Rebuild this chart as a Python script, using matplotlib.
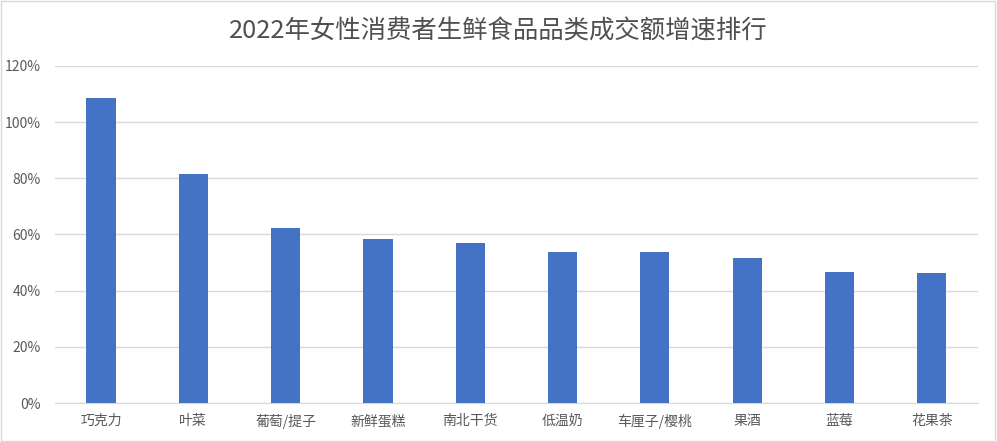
import matplotlib
matplotlib.use("Agg")
import matplotlib.pyplot as plt
from matplotlib.ticker import FuncFormatter
from matplotlib.patches import Rectangle

plt.rcParams['font.family'] = ['Noto Sans CJK SC', 'DejaVu Sans']

categories = ['巧克力', '叶菜', '葡萄/提子', '新鲜蛋糕', '南北干货', '低温奶', '车厘子/樱桃', '果酒', '蓝莓', '花果茶']
growth = [1.086, 0.815, 0.623, 0.584, 0.570, 0.538, 0.538, 0.516, 0.466, 0.463]
yticks = [0, 0.2, 0.4, 0.6, 0.8, 1.0, 1.2]
title = '2022年女性消费者生鲜食品品类成交额增速排行'

fig = plt.figure(figsize=(9.97, 4.42), dpi=100)
ax = fig.add_axes([0.055, 0.088, 0.926, 0.763])
x = list(range(len(categories)))
ax.bar(x, growth, width=0.315, color='#4472C4', zorder=3)
ax.set_xlim(-0.5, len(categories) - 0.5)
ax.set_ylim(0, 1.2)
ax.set_yticks(yticks)
ax.yaxis.set_major_formatter(FuncFormatter(lambda v, p: f'{v*100:.0f}%'))
ax.set_xticks(x)
ax.set_xticklabels(categories)
ax.grid(axis='y', color='#D9D9D9', linewidth=1, zorder=0)
for s in ['top', 'right', 'left']:
    ax.spines[s].set_visible(False)
ax.spines['bottom'].set_color('#D9D9D9')
ax.tick_params(axis='both', length=0, colors='#595959', labelsize=10)
ax.tick_params(axis='x', pad=8)
ax.tick_params(axis='y', pad=10)
fig.text(0.5, 0.928, title, ha='center', va='center', fontsize=18.3, color='#505050',
         fontweight='medium')
fig.patches.append(Rectangle((0.001, 0.002), 0.997, 0.995, transform=fig.transFigure,
                             fill=False, edgecolor='#D9D9D9', linewidth=1))
fig.savefig('out.png', dpi=100)
